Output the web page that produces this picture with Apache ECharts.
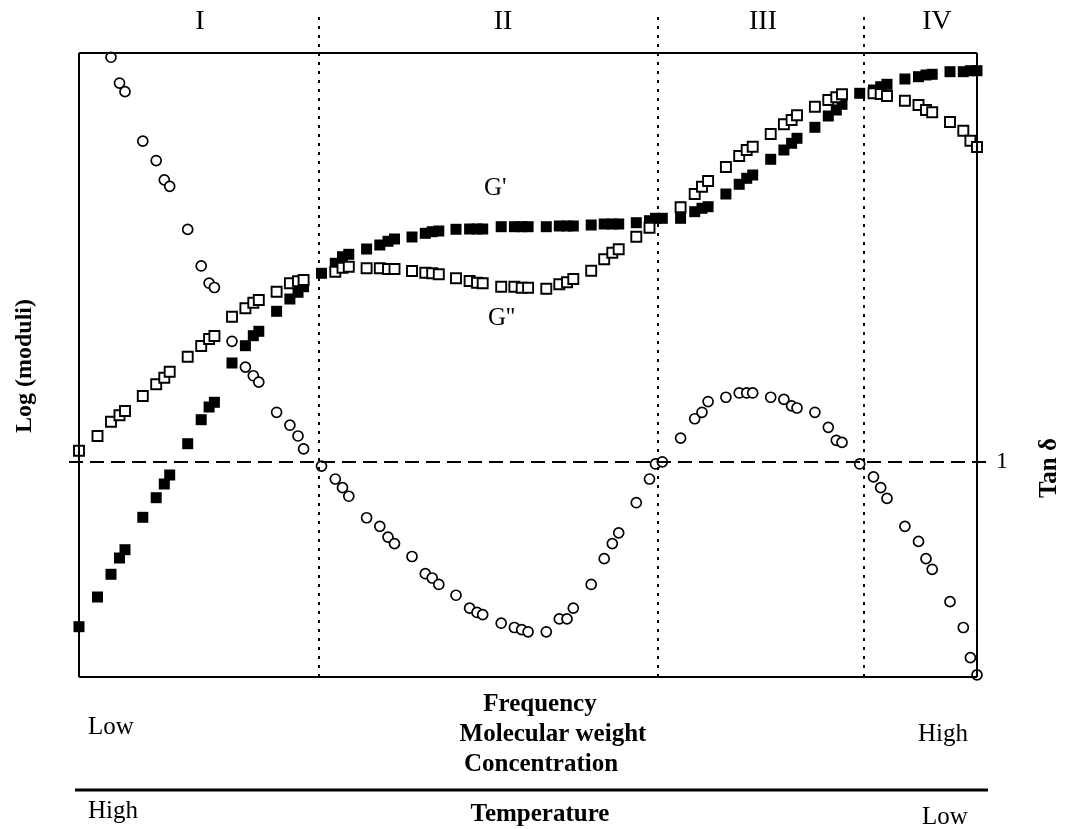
<!DOCTYPE html>
<html>
<head>
<meta charset="utf-8">
<script src="https://cdn.jsdelivr.net/npm/echarts@6/dist/echarts.min.js"></script>
<style>
  html, body { margin: 0; background: #fff; }
  #chart { width: 1069px; height: 829px; }
</style>
</head>
<body>
<div id="chart"></div>
<script>
// shared frequency grid (arbitrary log units, left to right)
const freq = [0.0, 1.85, 3.2, 4.05, 4.6, 6.38, 7.72, 8.53, 9.07, 10.87,
  12.22, 13.01, 13.54, 15.3, 16.64, 17.43, 17.98, 19.76, 21.09, 21.9,
  22.46, 24.25, 25.63, 26.35, 26.98, 28.76, 30.08, 30.9, 31.55, 33.3,
  34.63, 35.32, 35.98, 37.7, 39.06, 39.8, 40.37, 42.22, 43.54, 44.27,
  44.91, 46.73, 48.03, 48.8, 49.43, 51.22, 52.52, 53.33, 53.97, 55.73,
  57.05, 57.65, 58.33, 60.16, 61.57, 62.3, 62.91, 64.69, 66.02, 66.77,
  67.37, 69.17, 70.49, 71.26, 71.8, 73.59, 74.93, 75.73, 76.3, 78.07,
  79.45, 80.17, 80.8, 82.59, 83.95, 84.7, 85.32, 87.1, 88.43, 89.14,
  89.8];

// G' (storage modulus), log units
const gPrime = [5.03, 8.0, 10.27, 11.9, 12.73, 15.97, 17.93, 19.3, 20.2, 23.33,
  25.73, 27.0, 27.47, 31.4, 33.13, 34.13, 34.57, 36.57, 37.8, 38.47,
  39.03, 40.37, 41.37, 42.03, 42.27, 42.8, 43.2, 43.57, 43.8, 44.0,
  44.37, 44.53, 44.6, 44.77, 44.8, 44.8, 44.8, 45.03, 45.03, 45.03,
  45.03, 45.03, 45.1, 45.1, 45.1, 45.2, 45.3, 45.3, 45.3, 45.43,
  45.63, 45.87, 45.87, 45.87, 46.53, 46.87, 47.03, 48.3, 49.27, 49.87,
  50.2, 51.77, 52.7, 53.37, 53.87, 54.97, 56.1, 56.7, 57.27, 58.37,
  58.7, 59.03, 59.27, 59.8, 60.03, 60.2, 60.27, 60.53, 60.53, 60.63,
  60.63];

// G'' (loss modulus), log units
const gDouble = [22.63, 24.1, 25.53, 26.17, 26.6, 28.1, 29.27, 29.93, 30.53, 32.03,
  33.1, 33.8, 34.1, 36.03, 36.87, 37.43, 37.7, 38.53, 39.37, 39.57,
  39.7, null, 40.53, 40.93, 41.03, 40.87, 40.87, 40.8, 40.8, 40.6,
  40.43, 40.37, 40.27, 39.87, 39.6, 39.43, 39.37, 39.03, 39.03, 38.93,
  38.93, 38.83, 39.27, 39.47, 39.8, 40.63, 41.77, 42.43, 42.77, 44.03,
  44.93, null, null, 46.97, 48.3, 49.03, 49.6, 51.0, 52.1, 52.7,
  53.03, 54.3, 55.27, 55.7, 56.17, 57.03, 57.7, 57.97, 58.27, null,
  58.37, 58.3, 58.1, 57.63, 57.2, 56.7, 56.47, 55.5, 54.63, 53.63,
  53.0];

// tan delta (right axis, 1 = dashed line)
const tanDelta = [null, null, 2.88, 2.76, 2.72, 2.49, 2.40, 2.31, 2.28, 2.08,
  1.91, 1.83, 1.81, 1.56, 1.44, 1.40, 1.37, 1.23, 1.17, 1.12,
  1.06, 0.98, 0.92, 0.88, 0.84, 0.74, 0.70, 0.65, 0.62, 0.56,
  0.48, 0.46, 0.43, 0.38, 0.32, 0.30, 0.29, 0.25, 0.23, 0.22,
  0.21, 0.21, 0.27, 0.27, 0.32, 0.43, 0.55, 0.62, 0.67, 0.81,
  0.92, 0.99, 1.00, 1.11, 1.20, 1.23, 1.28, 1.30, 1.32, 1.32,
  1.32, 1.30, 1.29, 1.26, 1.25, 1.23, 1.16, 1.10, 1.09, 0.99,
  0.93, 0.88, 0.83, 0.70, 0.63, 0.55, 0.50, 0.35, 0.23, 0.09,
  0.01];

// region boundaries and labels
const regionBounds = [24.0, 57.9, 78.5];
const regionNames = ['I', 'II', 'III', 'IV'];
const regionLabelX = [200, 503, 763, 937];

const X_MIN = -1, X_MAX = 91.2;      // plot frame spans 0 .. 89.8
const FRAME_R = 89.8, FRAME_T = 62.4, Y_MAX = 66.5;
const TAN_MAX = 3.0902;

function pairs(ys) {
  const out = [];
  ys.forEach((y, i) => { if (y != null) out.push([freq[i], y]); });
  return out;
}

const serif = '"Liberation Serif", "DejaVu Serif", serif';
const solid = { color: '#000', width: 2, type: 'solid' };
const dotted = { color: '#000', width: 2, type: [3, 6] };

const frameLines = [
  [{ coord: [0, 0], lineStyle: solid }, { coord: [FRAME_R, 0] }],
  [{ coord: [0, 0], lineStyle: solid }, { coord: [0, FRAME_T] }],
  [{ coord: [0, FRAME_T], lineStyle: solid }, { coord: [FRAME_R, FRAME_T] }],
  [{ coord: [FRAME_R, 0], lineStyle: solid }, { coord: [FRAME_R, FRAME_T] }]
].concat(regionBounds.map(b => [{ coord: [b, 0], lineStyle: dotted }, { coord: [b, 66.2] }]));

function txt(x, y, text, font, align, rot) {
  return {
    type: 'text', x: x, y: y, rotation: rot || 0, z: 10,
    style: { text: text, font: font, fill: '#000', textAlign: align || 'center', textVerticalAlign: 'middle' }
  };
}

const chart = echarts.init(document.getElementById('chart'));
chart.setOption({
  animation: false,
  backgroundColor: '#fff',
  grid: { left: 69, right: 78, top: 12, bottom: 152 },
  xAxis: {
    type: 'value', min: X_MIN, max: X_MAX,
    axisLine: { show: false }, axisTick: { show: false },
    axisLabel: { show: false }, splitLine: { show: false }
  },
  yAxis: [
    {
      type: 'value', min: 0, max: Y_MAX,
      axisLine: { show: false }, axisTick: { show: false },
      axisLabel: { show: false }, splitLine: { show: false }
    },
    {
      type: 'value', min: 0, max: TAN_MAX, interval: 1, position: 'right',
      axisLine: { show: false }, axisTick: { show: false }, splitLine: { show: false },
      axisLabel: {
        color: '#000', fontSize: 24, fontFamily: serif, margin: 5,
        formatter: v => (v === 1 ? '1' : '')
      }
    }
  ],
  series: [
    {
      name: "G'", type: 'scatter', data: pairs(gPrime),
      symbol: 'rect', symbolSize: 11,
      itemStyle: { color: '#000', opacity: 1 },
      markLine: {
        silent: true, symbol: ['none', 'none'], label: { show: false },
        data: frameLines
      }
    },
    {
      name: "G''", type: 'scatter', data: pairs(gDouble),
      symbol: 'rect', symbolSize: 10,
      itemStyle: { color: '#fff', borderColor: '#000', borderWidth: 1.9, opacity: 1 }
    },
    {
      name: 'Tan δ', type: 'scatter', yAxisIndex: 1, data: pairs(tanDelta),
      symbol: 'circle', symbolSize: 10,
      itemStyle: { color: '#fff', borderColor: '#000', borderWidth: 1.7, opacity: 1 },
      markLine: {
        silent: true, symbol: ['none', 'none'], label: { show: false },
        lineStyle: { color: '#000', width: 1.8, type: [14, 7] },
        data: [[{ coord: [X_MIN, 1] }, { coord: [X_MAX, 1] }]]
      }
    }
  ],
  graphic: [
    ...regionNames.map((n, i) => txt(regionLabelX[i], 22, n, '28px ' + serif)),
    txt(484, 188, "G'", '25px ' + serif, 'left'),
    txt(488, 318, "G''", '25px ' + serif, 'left'),
    txt(25, 366, 'Log (moduli)', 'bold 24px ' + serif, 'center', Math.PI / 2),
    txt(1050, 468, 'Tan δ', 'bold 25px ' + serif, 'center', Math.PI / 2),
    txt(540, 705, 'Frequency', 'bold 25px ' + serif),
    txt(553, 735, 'Molecular weight', 'bold 25px ' + serif),
    txt(541, 765, 'Concentration', 'bold 25px ' + serif),
    txt(88, 727, 'Low', '25px ' + serif, 'left'),
    txt(918, 734, 'High', '25px ' + serif, 'left'),
    {
      type: 'line', z: 10,
      shape: { x1: 75, y1: 790, x2: 988, y2: 790 },
      style: { stroke: '#000', lineWidth: 3 }
    },
    txt(88, 811, 'High', '25px ' + serif, 'left'),
    txt(540, 815, 'Temperature', 'bold 25px ' + serif),
    txt(922, 817, 'Low', '25px ' + serif, 'left')
  ]
});
</script>
</body>
</html>
